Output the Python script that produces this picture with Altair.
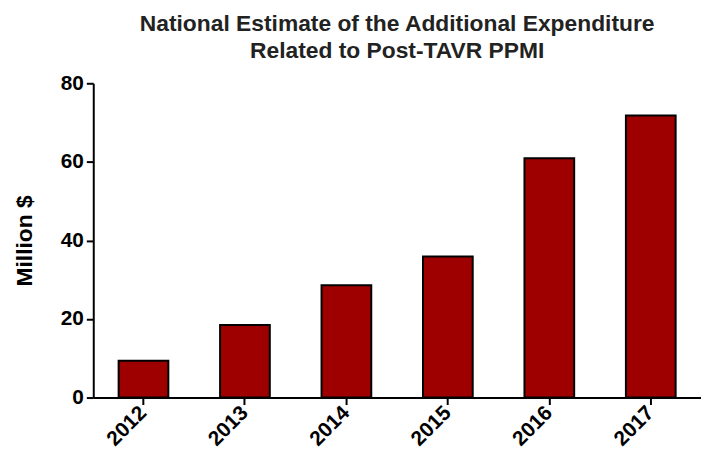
import altair as alt
import pandas as pd

years = ["2012", "2013", "2014", "2015", "2016", "2017"]
values = [9.4, 18.5, 28.6, 35.9, 60.9, 71.8]

df = pd.DataFrame({"year": years, "value": values})

FONT = "Liberation Sans"

chart = alt.Chart(df).mark_bar(
    color="#9E0000", stroke="black", strokeWidth=2
).encode(
    x=alt.X("year:N", sort=years, title=None,
            scale=alt.Scale(paddingInner=0.51, paddingOuter=0.25),
            axis=alt.Axis(labelAngle=-45, labelAlign="right", labelBaseline="middle",
                          labelFont=FONT, labelFontSize=21, labelFontWeight="bold",
                          labelColor="black", domainColor="black", domainWidth=2,
                          tickColor="black", tickWidth=2, tickSize=7, labelPadding=5)),
    y=alt.Y("value:Q", title="Million $",
            scale=alt.Scale(domain=[0, 80], nice=False),
            axis=alt.Axis(values=[0, 20, 40, 60, 80], grid=False,
                          labelFont=FONT, labelFontSize=21, labelFontWeight="bold",
                          labelColor="black", domainColor="black", domainWidth=2,
                          tickColor="black", tickWidth=2, tickSize=7, labelPadding=3,
                          titleFont=FONT, titleFontSize=23, titleFontWeight="bold",
                          titleColor="black", titlePadding=24)),
).properties(
    width=613, height=317,
    autosize=alt.AutoSizeParams(type="none"),
    padding={"left": 86, "top": 74, "right": 0, "bottom": 56},
    title=alt.TitleParams(
        text=["National Estimate of the Additional Expenditure", "Related to Post-TAVR PPMI"],
        font=FONT, fontSize=23, fontWeight="bold", color="#222222",
        anchor="middle", offset=10, lineHeight=27),
).configure_view(stroke=None)

chart.save("out.html", embed_options={"renderer": "svg", "actions": False})
